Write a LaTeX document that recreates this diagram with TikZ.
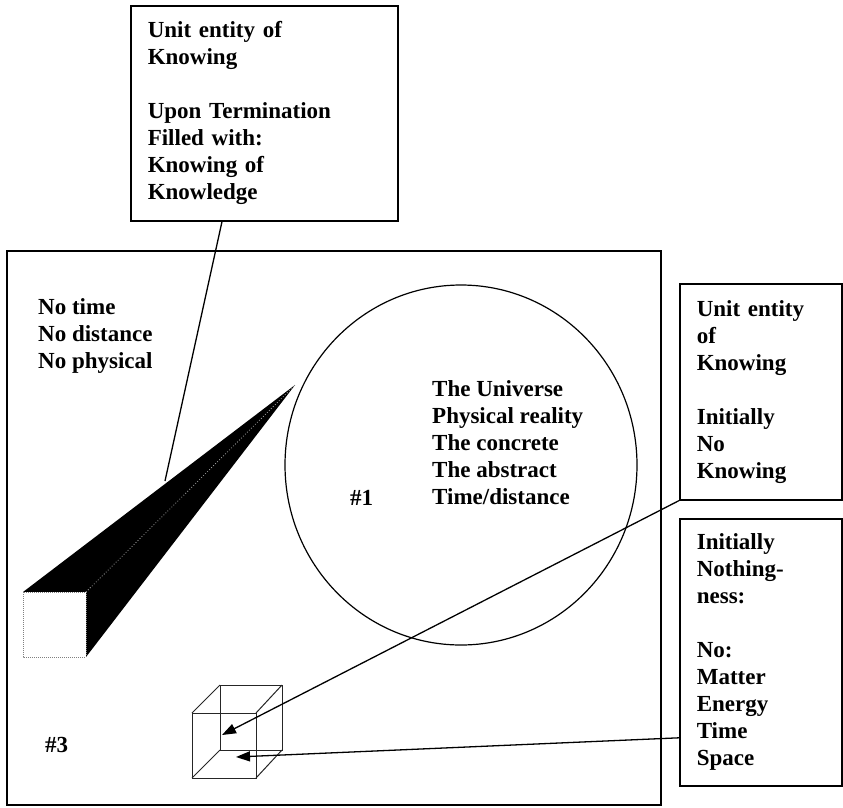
\documentclass[tikz,border=0pt]{standalone}
\usepackage{fontspec}
\setmainfont{Liberation Serif}
\usetikzlibrary{arrows.meta}

\begin{document}
\begin{tikzpicture}[
    x=1pt, y=-1pt,
    infobox/.style={
        rectangle, draw, line width=1.6pt,
        anchor=north west, align=left,
        inner xsep=17pt, inner ysep=0pt,
        font=\bfseries\fontsize{23}{27}\selectfont
    },
    plain/.style={
        inner sep=0pt, align=left,
        font=\bfseries\fontsize{23}{27}\selectfont
    },
    cubeedge/.style={line width=1pt, black!85},
    pointer/.style={line width=1.3pt, -{Triangle[length=14pt, width=10pt]}}
]
\useasboundingbox (0,0) rectangle (843,807);

%% Outer frame and the universe circle
\draw[line width=1.6pt] (7,251) rectangle (661,805);
\draw[line width=1.2pt] (461,465) ellipse [x radius=176, y radius=180];

%% Text boxes
\node[infobox, text width=233pt, minimum height=215pt] at (130,5)
    (topbox) {Unit entity of\\
              Knowing\\[27pt]
              Upon Termination\\
              Filled with:\\
              Knowing of\\
              Knowledge};

\node[infobox, text width=128pt, minimum height=216pt] at (679,283)
    (box1) {Unit entity\\
            of\\
            Knowing\\[27pt]
            Initially\\
            No\\
            Knowing};

\node[infobox, text width=128pt, minimum height=267pt] at (679,518)
    (box2) {Initially\\
            Nothing-\\
            ness:\\[27pt]
            No:\\
            Matter\\
            Energy\\
            Time\\
            Space};

%% Labels inside the frame
\node[plain, anchor=north west] at (38,298)
    (notime) {No time\\No distance\\No physical};
\node[plain, anchor=north west] at (432,380)
    (universe) {The Universe\\
                Physical reality\\
                The concrete\\
                The abstract\\
                Time/distance};
\node[plain, anchor=base west] at (350,505) (num1) {\#1};
\node[plain, anchor=base west] at (45,752) (num3) {\#3};

%% Beam ending in an open square
\fill (23,592) -- (295,385) -- (86,657) -- (86,592) -- cycle;
\draw[gray!70, dotted, line width=0.8pt] (86,592) -- (295,385);
\draw[gray, densely dotted, line width=1pt, fill=white] (23,592) rectangle (86,657);

%% Small cube
\draw[cubeedge] (192,713) rectangle (256,778);
\draw[cubeedge] (220,685) rectangle (282,750);
\draw[cubeedge] (192,713) -- (220,685) (256,713) -- (282,685)
                (192,778) -- (220,750) (256,778) -- (282,750);

%% Connectors
\coordinate (beamhit) at (165,481);
\coordinate (cubein) at (222,735);
\coordinate (cubebase) at (236,757);

\draw[line width=1.3pt] ([xshift=92pt]topbox.south west) -- (beamhit);
\draw[pointer] (box1.south west) -- (cubein);
\draw[pointer] ([yshift=-85.5pt]box2.west) -- (cubebase);

\end{tikzpicture}
\end{document}
